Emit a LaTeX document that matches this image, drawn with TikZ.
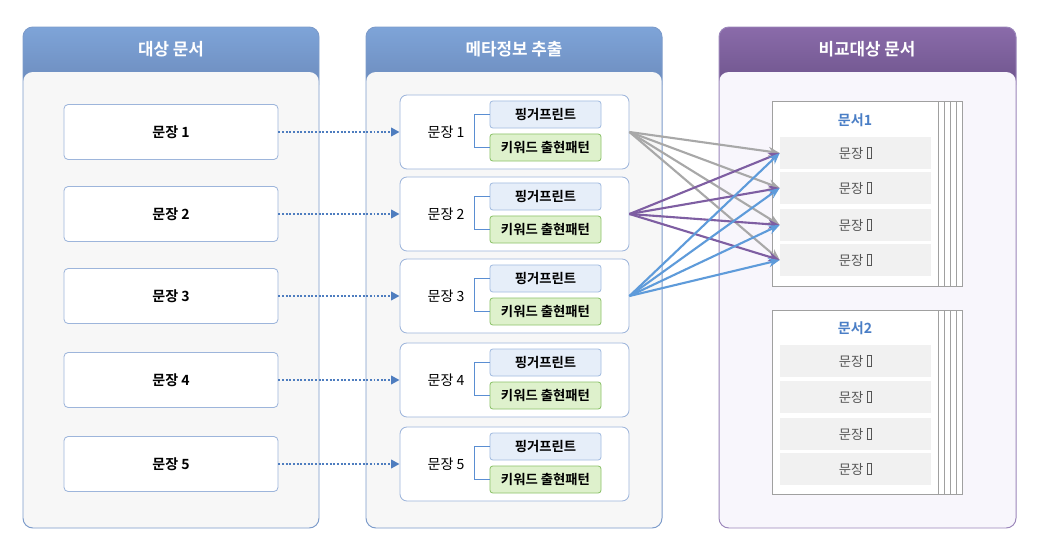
\documentclass[tikz,border=0pt]{standalone}
\usepackage{fontspec}
\setmainfont{Noto Sans CJK KR}[BoldFont={Noto Sans CJK KR Bold}]
\usetikzlibrary{positioning, arrows.meta, calc}
\usepackage{xcolor}

\definecolor{hdblueA}{HTML}{7EA4D8}
\definecolor{hdblueB}{HTML}{6A88B9}
\definecolor{blueline}{HTML}{7D9CCB}
\definecolor{bodygray}{HTML}{F7F7F7}
\definecolor{boxline}{HTML}{9DB5DB}
\definecolor{fpfill}{HTML}{E6EEF9}
\definecolor{fpline}{HTML}{A3BCE0}
\definecolor{kwfill}{HTML}{DEF1CC}
\definecolor{kwline}{HTML}{8CC26A}
\definecolor{bracketblue}{HTML}{5A8ED2}
\definecolor{dotblue}{HTML}{4E7DBF}
\definecolor{hdpurpA}{HTML}{8A6BAA}
\definecolor{hdpurpB}{HTML}{6A5188}
\definecolor{purpline}{HTML}{9B86BA}
\definecolor{purpbody}{HTML}{F8F6FC}
\definecolor{pageline}{HTML}{A0A0A0}
\definecolor{rowfill}{HTML}{F1F1F1}
\definecolor{rowtext}{HTML}{555555}
\definecolor{doctitle}{HTML}{4A7EC6}
\definecolor{arrgray}{HTML}{A8A8A8}
\definecolor{arrpurp}{HTML}{7E5EA2}
\definecolor{arrblue}{HTML}{5E9BDA}

% missing glyph box
\newcommand{\tofu}{{\setlength{\fboxsep}{0pt}\setlength{\fboxrule}{0.45pt}\fbox{\phantom{\rule{0.32em}{0.8em}}}}}

\tikzset{
  hdtext/.style={text=white, font=\fontsize{12}{14}\selectfont\bfseries},
  srcbox/.style={draw=boxline, fill=white, rounded corners=3pt, line width=0.6pt,
    minimum width=5.35cm, minimum height=1.375cm, inner sep=0pt,
    font=\fontsize{10}{12}\selectfont\bfseries},
  midbox/.style={draw=boxline, fill=white, rounded corners=5pt, line width=0.6pt,
    minimum width=5.725cm, minimum height=1.85cm, inner sep=0pt},
  fpbox/.style={draw=fpline, fill=fpfill, rounded corners=2pt, line width=0.6pt,
    minimum width=2.775cm, minimum height=0.675cm, inner sep=0pt,
    font=\fontsize{9.5}{11}\selectfont\bfseries},
  kwbox/.style={fpbox, draw=kwline, fill=kwfill},
  pagebox/.style={draw=pageline, fill=white, line width=0.6pt,
    minimum width=4.15cm, minimum height=4.625cm, inner sep=0pt},
  rowbox/.style={fill=rowfill, minimum width=3.775cm, minimum height=0.8cm, inner sep=0pt,
    text=rowtext, font=\fontsize{9.5}{11}\selectfont},
  dotarrow/.style={dotblue, dash pattern=on 1.4pt off 1.2pt, line width=1.5pt, -{Triangle[length=6pt, width=6pt]}},
  linkarrow/.style={#1, line width=1.5pt, -{Stealth[length=8pt, width=6.5pt]}},
}

\begin{document}
\begin{tikzpicture}[x=0.025cm, y=-0.025cm]
\useasboundingbox (0,0) rectangle (1039,546);
\fill[white] (0,0) rectangle (1039,546);

% Left panel
\shade[top color=hdblueA, bottom color=hdblueB, rounded corners=7pt] (23,27) rectangle (319,95);
\fill[bodygray, rounded corners=7pt] (23,72) rectangle (319,528);
\draw[blueline, line width=0.7pt, rounded corners=7pt] (23,27) rectangle (319,528);
\node[hdtext] (srctitle) at (171,49) {대상 문서};

% Middle panel
\shade[top color=hdblueA, bottom color=hdblueB, rounded corners=7pt] (366,27) rectangle (662,95);
\fill[bodygray, rounded corners=7pt] (366,72) rectangle (662,528);
\draw[blueline, line width=0.7pt, rounded corners=7pt] (366,27) rectangle (662,528);
\node[hdtext] (metatitle) at (514,49) {메타정보 추출};

% Right panel
\shade[top color=hdpurpA, bottom color=hdpurpB, rounded corners=7pt] (719,27) rectangle (1016,95);
\fill[purpbody, rounded corners=7pt] (719,72) rectangle (1016,528);
\draw[purpline, line width=0.7pt, rounded corners=7pt] (719,27) rectangle (1016,528);
\node[hdtext] (cmptitle) at (867,49) {비교대상 문서};

% Sentences and their meta info
\foreach \i/\y in {1/132, 2/214, 3/296, 4/380, 5/464} {
  \node[srcbox] (s\i) at (171,\y) {문장 \i};
  \node[midbox] (m\i) at (514.5,\y) {};
  \node[font=\fontsize{10}{12}\selectfont] (ml\i) at (446,\y) {문장 \i};
  \node[fpbox] (fp\i) at (545.5,\y-17.5) {핑거프린트};
  \node[kwbox] (kw\i) at (545.5,\y+15.5) {키워드 출현패턴};
  \draw[bracketblue, line width=1.3pt] (fp\i.west) -- ++(-15,0) |- (kw\i.west);
  \draw[dotarrow] (s\i.east) -- (m\i.west);
}

% Document stacks
\foreach \k in {4,3,2,1} {
  \draw[pageline, fill=white, line width=0.6pt] (772+6*\k,101) rectangle (938+6*\k,286);
  \draw[pageline, fill=white, line width=0.6pt] (772+6*\k,310) rectangle (938+6*\k,494);
}
\node[pagebox] (d1) at (855,193.5) {};
\node[pagebox, minimum height=4.6cm] (d2) at (855,402) {};
\node[text=doctitle, font=\fontsize{10}{12}\selectfont\bfseries] (d1title) at (855,120) {문서1};
\node[text=doctitle, font=\fontsize{10}{12}\selectfont\bfseries] (d2title) at (855,328) {문서2};
\foreach \j/\y in {1/153, 2/188, 3/225, 4/260}
  \node[rowbox] (d1r\j) at (855.5,\y) {문장 \tofu};
\foreach \j/\y in {1/361, 2/397, 3/434, 4/469}
  \node[rowbox] (d2r\j) at (855.5,\y) {문장 \tofu};

% Comparison links
\foreach \j in {1,...,4}
  \draw[linkarrow=arrgray] (m1.east) -- (d1r\j.west);
\foreach \j in {1,...,4}
  \draw[linkarrow=arrpurp] (m2.east) -- (d1r\j.west);
\foreach \j in {1,...,4}
  \draw[linkarrow=arrblue] (m3.east) -- (d1r\j.west);
\end{tikzpicture}
\end{document}
